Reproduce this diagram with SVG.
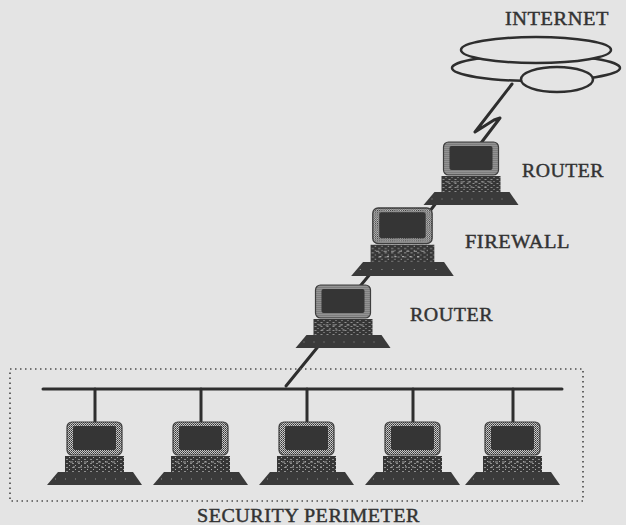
<svg xmlns="http://www.w3.org/2000/svg" width="626" height="525" viewBox="0 0 626 525">
  <defs>
    <style>
      .label { font-family: "Liberation Serif", "Times New Roman", serif; font-size: 19px; fill: #333; stroke: #333; stroke-width: 0.45px; letter-spacing: 0.5px; }
      .wire { stroke: #2e2e2e; stroke-width: 3; fill: none; stroke-linecap: round; stroke-linejoin: round; }
      .cloud { fill: #e4e4e4; stroke: #2e2e2e; stroke-width: 2.5; }
      .perimeter { fill: none; stroke: #4e4e4e; stroke-width: 1.7; stroke-dasharray: 1.5 3.5; }
    </style>
    <!-- halftone texture for monitor bezels -->
    <pattern id="halftone" width="2" height="2" patternUnits="userSpaceOnUse">
      <rect width="2" height="2" fill="#c8c8c8"/>
      <rect width="1" height="1" fill="#333"/>
      <rect x="1" y="1" width="1" height="1" fill="#5e5e5e"/>
    </pattern>
    <pattern id="speckle" width="6" height="4" patternUnits="userSpaceOnUse">
      <rect width="6" height="4" fill="#363636"/>
      <rect x="1" y="1" width="2" height="1" fill="#8e8e8e"/>
      <rect x="4" y="3" width="1" height="1" fill="#a8a8a8"/>
    </pattern>
    <!-- desktop computer icon, origin at top-centre of the monitor -->
    <g id="pc">
      <rect x="-28" y="0" width="55" height="33" rx="5" fill="url(#halftone)" stroke="#3e3e3e" stroke-width="1.2"/>
      <rect x="-22" y="4" width="43" height="24" rx="2" fill="#353535"/>
      <rect x="-30" y="34" width="59" height="17" fill="url(#speckle)"/>
      <line x1="-25" y1="40" x2="22" y2="40" stroke="#a0a0a0" stroke-width="1" stroke-dasharray="3 4"/>
      <line x1="-22" y1="45" x2="20" y2="45" stroke="#a8a8a8" stroke-width="1" stroke-dasharray="2 5"/>
      <polygon points="-37,50 38,50 47,63 -48,63" fill="#3a3a3a"/>
      <line x1="-40" y1="57" x2="40" y2="57" stroke="#929292" stroke-width="1" stroke-dasharray="1 9"/>
    </g>
  </defs>

  <rect width="626" height="525" fill="#e4e4e4"/>

  <!-- links -->
  <g id="connectors">
    <polyline class="wire" stroke-width="2.5" points="512,84 475,132 494,120 500,118 481,143"/>
    <line class="wire" x1="446" y1="190" x2="420" y2="224"/>
    <line class="wire" x1="380" y1="262" x2="352" y2="296"/>
    <line class="wire" x1="338" y1="322" x2="286" y2="386"/>
    <line class="wire" x1="43" y1="389" x2="562" y2="389" stroke-width="4"/>
    <line class="wire" x1="95" y1="389" x2="95" y2="423"/>
    <line class="wire" x1="201" y1="389" x2="201" y2="423"/>
    <line class="wire" x1="307" y1="389" x2="307" y2="423"/>
    <line class="wire" x1="413" y1="389" x2="413" y2="423"/>
    <line class="wire" x1="513" y1="389" x2="513" y2="423"/>
  </g>

  <!-- internet cloud -->
  <g id="internet">
    <ellipse class="cloud" cx="536" cy="68" rx="84" ry="13"/>
    <ellipse class="cloud" cx="536" cy="50" rx="75" ry="13"/>
    <ellipse class="cloud" cx="557" cy="79.5" rx="36" ry="12.5"/>
    <text class="label" x="505" y="25" textLength="104" lengthAdjust="spacingAndGlyphs">INTERNET</text>
  </g>

  <g id="router-outer">
    <use href="#pc" transform="translate(471.5,142)"/>
    <text class="label" x="522" y="177" textLength="82" lengthAdjust="spacingAndGlyphs">ROUTER</text>
  </g>

  <g id="firewall">
    <use href="#pc" transform="translate(403,208) scale(1.08)"/>
    <text class="label" x="465" y="248" textLength="105" lengthAdjust="spacingAndGlyphs">FIREWALL</text>
  </g>

  <g id="router-inner">
    <use href="#pc" transform="translate(343.5,285)"/>
    <text class="label" x="410" y="321" textLength="83" lengthAdjust="spacingAndGlyphs">ROUTER</text>
  </g>

  <!-- protected network -->
  <g id="perimeter">
    <rect class="perimeter" x="10" y="369" width="573" height="132"/>
    <text class="label" x="197" y="522" textLength="223" lengthAdjust="spacingAndGlyphs">SECURITY PERIMETER</text>
  </g>

  <g id="host-1"><use href="#pc" transform="translate(95,422)"/></g>
  <g id="host-2"><use href="#pc" transform="translate(201,422)"/></g>
  <g id="host-3"><use href="#pc" transform="translate(307,422)"/></g>
  <g id="host-4"><use href="#pc" transform="translate(413,422)"/></g>
  <g id="host-5"><use href="#pc" transform="translate(513,422)"/></g>
</svg>
